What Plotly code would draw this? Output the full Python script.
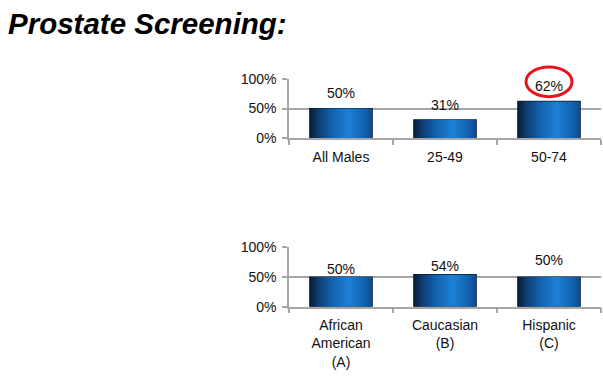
import plotly.graph_objects as go

# Screening rates (%) by age group and by ethnicity
age_groups = ["All Males", "25-49", "50-74"]
age_rates = [50, 31, 62]

ethnic_groups = ["African<br>American<br>(A)", "Caucasian<br>(B)", "Hispanic<br>(C)"]
ethnic_rates = [50, 54, 50]

y_ticks = [0, 50, 100]
y_tick_labels = ["0%", "50%", "100%"]

# vertical lift (px) of each value label above its bar
age_label_lift = [16, 15, 15]
ethnic_label_lift = [8, 9, 17]

BAR_W = 0.6
FONT = "Liberation Sans, Arial, sans-serif"
TEXT = "#111111"
GRID = "#a6a6a6"
GRADIENT = [[0.0, "#081a30"], [0.12, "#0b3a6e"], [0.35, "#1261ae"],
            [0.62, "#1c80d6"], [0.85, "#1465b4"], [1.0, "#0c4a8a"]]

fig = go.Figure()


def add_panel(values, labels, lift, xa, ya):
    xs = list(range(len(values)))
    # shaded bar bodies
    for i, v in zip(xs, values):
        x0, x1 = i - BAR_W / 2, i + BAR_W / 2
        fig.add_trace(go.Scatter(
            x=[x0, x1, x1, x0, x0], y=[0, 0, v, v, 0],
            mode="lines", fill="toself", line=dict(width=0),
            fillgradient=dict(type="horizontal", colorscale=GRADIENT),
            hoverinfo="skip", showlegend=False, xaxis=xa, yaxis=ya))
    # bar outlines
    fig.add_trace(go.Bar(
        x=xs, y=values, width=BAR_W,
        marker=dict(color="rgba(0,0,0,0)", line=dict(color="#10182a", width=1.2)),
        showlegend=False, xaxis=xa, yaxis=ya))
    for i, v, d in zip(xs, values, lift):
        fig.add_annotation(x=i, y=v, xref=xa, yref=ya, text=f"{v}%",
                           showarrow=False, yshift=d, yanchor="middle",
                           font=dict(family=FONT, size=14, color=TEXT))


add_panel(age_rates, age_groups, age_label_lift, "x", "y")
add_panel(ethnic_rates, ethnic_groups, ethnic_label_lift, "x2", "y2")

W, H = 603, 376
x_dom = [289 / W, 601 / W]

xaxis_common = dict(
    range=[-0.5, 2.5], domain=x_dom, tickmode="array", tickvals=[0, 1, 2],
    ticks="", showgrid=False, zeroline=False, showline=True,
    linecolor=GRID, linewidth=1.5, fixedrange=True, ticklabelstandoff=5,
    tickfont=dict(family=FONT, size=14, color=TEXT),
    minor=dict(tickmode="array", tickvals=[-0.5, 0.5, 1.5, 2.5],
               ticks="outside", ticklen=5, tickcolor=GRID, tickwidth=1.5,
               showgrid=False),
)
yaxis_common = dict(
    range=[0, 100], tickmode="array", tickvals=y_ticks, ticktext=y_tick_labels,
    ticks="outside", ticklen=5, tickcolor=GRID, tickwidth=1.5,
    showgrid=True, gridcolor=GRID, gridwidth=1.5, zeroline=False,
    showline=True, linecolor=GRID, linewidth=1.5, fixedrange=True,
    ticklabelstandoff=3,
    tickfont=dict(family=FONT, size=14, color=TEXT),
)

fig.update_layout(
    width=W, height=H, margin=dict(l=0, r=0, t=0, b=0),
    paper_bgcolor="white", plot_bgcolor="white",
    bargap=0.4,
    xaxis=dict(xaxis_common, anchor="y", ticktext=age_groups),
    yaxis=dict(yaxis_common, anchor="x", domain=[1 - 136 / H, 1 - 74 / H]),
    xaxis2=dict(xaxis_common, anchor="y2", ticktext=ethnic_groups),
    yaxis2=dict(yaxis_common, anchor="x2", domain=[1 - 312 / H, 1 - 250 / H]),
)

# title
fig.add_annotation(x=6 / W, y=1 - 16 / H, xref="paper", yref="paper",
                   xanchor="left", yanchor="middle", showarrow=False,
                   text="<b><i>Prostate Screening:</i></b>",
                   font=dict(family=FONT, size=29.5, color="#000000"))

# red ring highlighting the 50-74 rate
hi = 2
cx = (hi + 0.5) / 3
fig.add_shape(type="circle", xref="x domain", yref="y domain",
              x0=cx - 23 / 312, x1=cx + 23 / 312,
              y0=(age_rates[hi] + 8) / 100, y1=(age_rates[hi] + 58) / 100,
              line=dict(color="#e8131b", width=3))

fig.write_html("out.html")
